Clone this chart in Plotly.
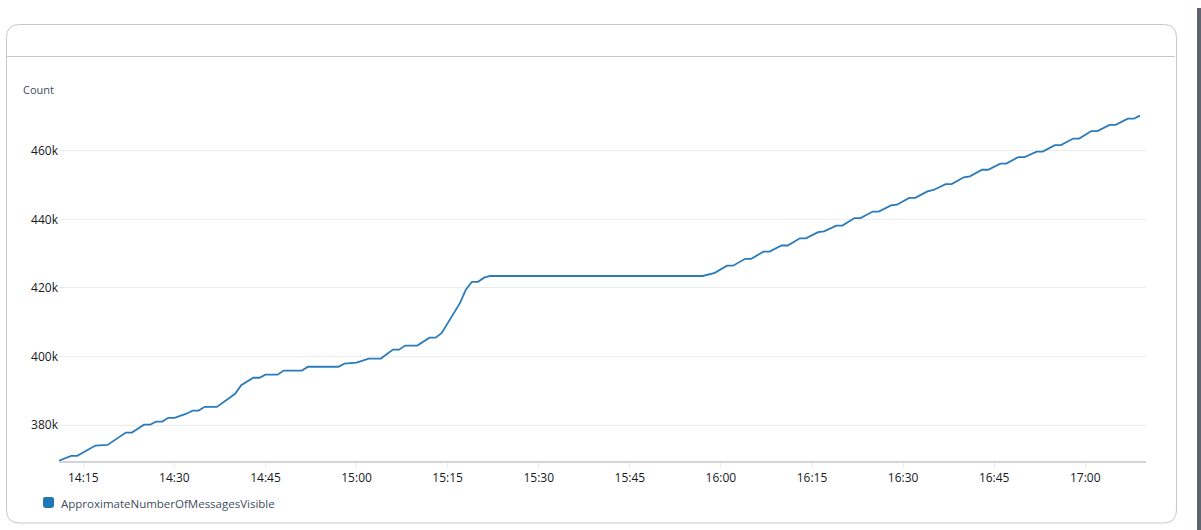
import plotly.graph_objects as go

# ---- data ----
day = "2024-01-01 "
times = ["14:11", "14:13", "14:14", "14:17", "14:19", "14:22", "14:23", "14:25", "14:26", "14:27",
         "14:28", "14:29", "14:30", "14:32", "14:33", "14:34", "14:35", "14:37", "14:40", "14:41",
         "14:43", "14:44", "14:45", "14:47", "14:48", "14:51", "14:52", "14:57", "14:58", "15:00",
         "15:02", "15:04", "15:06", "15:07", "15:08", "15:10", "15:12", "15:13", "15:14", "15:17",
         "15:18", "15:19", "15:20", "15:21", "15:22", "15:57", "15:59", "16:01", "16:02", "16:04",
         "16:05", "16:07", "16:08", "16:10", "16:11", "16:13", "16:14", "16:16", "16:17", "16:19",
         "16:20", "16:22", "16:23", "16:25", "16:26", "16:28", "16:29", "16:31", "16:32", "16:34",
         "16:35", "16:37", "16:38", "16:40", "16:41", "16:43", "16:44", "16:46", "16:47", "16:49",
         "16:50", "16:52", "16:53", "16:55", "16:56", "16:58", "16:59", "17:01", "17:02", "17:04",
         "17:05", "17:07", "17:08", "17:09"]
messages_visible = [369600, 371000, 371000, 374000, 374200, 377800, 377800, 380100, 380100, 381000,
                    381000, 382100, 382100, 383300, 384200, 384200, 385300, 385300, 389100, 391600,
                    393800, 393800, 394700, 394700, 395900, 395900, 397000, 397000, 397900, 398200,
                    399400, 399400, 402000, 402000, 403200, 403200, 405500, 405500, 406800, 415500,
                    419500, 421800, 421800, 423000, 423500, 423500, 424400, 426500, 426500, 428500,
                    428500, 430600, 430600, 432400, 432400, 434500, 434500, 436300, 436500, 438200,
                    438200, 440400, 440400, 442300, 442300, 444100, 444300, 446300, 446300, 448200,
                    448600, 450300, 450300, 452300, 452600, 454500, 454500, 456300, 456300, 458200,
                    458200, 459800, 459800, 461700, 461700, 463600, 463600, 465800, 465800, 467600,
                    467600, 469400, 469400, 470300]
series_name = "ApproximateNumberOfMessagesVisible"
y_axis_label = "Count"
x_tick_labels = ["14:15", "14:30", "14:45", "15:00", "15:15", "15:30", "15:45",
                 "16:00", "16:15", "16:30", "16:45", "17:00"]
y_tick_values = [380000, 400000, 420000, 440000, 460000]
y_tick_labels = ["380k", "400k", "420k", "440k", "460k"]
x_range = ["14:11", "17:10"]
y_range = [369500, 473400]

# ---- layout geometry (pixels) ----
W, H = 1201, 530
PL, PR, PT, PB = 59, 1146, 105, 461  # plot area


def px(x):
    return (x - PL) / (PR - PL)


def py(y):
    return (PB - y) / (PB - PT)


def rounded_rect(l, t, r, b, rad):
    pts = [
        ("M", [(l + rad, t)]), ("L", [(r - rad, t)]), ("Q", [(r, t), (r, t + rad)]),
        ("L", [(r, b - rad)]), ("Q", [(r, b), (r - rad, b)]), ("L", [(l + rad, b)]),
        ("Q", [(l, b), (l, b - rad)]), ("L", [(l, t + rad)]), ("Q", [(l, t), (l + rad, t)]),
    ]
    s = ""
    for cmd, ps in pts:
        s += cmd + " " + " ".join(f"{px(a):.6f},{py(c):.6f}" for a, c in ps) + " "
    return s + "Z"


fig = go.Figure()
fig.add_trace(go.Scatter(
    x=[day + t for t in times], y=messages_visible, mode="lines",
    line=dict(color="#2b7bba", width=1.8), name=series_name, showlegend=False,
))

shapes = [
    dict(type="path", xref="paper", yref="paper", path=rounded_rect(6.5, 24.5, 1176.5, 523, 13),
         line=dict(color="#c6c6cd", width=1), fillcolor="rgba(0,0,0,0)", layer="below"),
    dict(type="line", xref="paper", yref="paper", x0=px(7), x1=px(1175), y0=py(56.5), y1=py(56.5),
         line=dict(color="#c6c6cd", width=1), layer="below"),
    dict(type="rect", xref="paper", yref="paper", x0=px(1197), x1=px(1201), y0=py(8), y1=py(530),
         line=dict(width=0), fillcolor="#5f6370", layer="below"),
    dict(type="path", xref="paper", yref="paper", path=rounded_rect(43, 497, 54, 508, 2.5),
         line=dict(width=0), fillcolor="#1f77b4"),
]

annotations = [
    dict(text=y_axis_label, xref="paper", yref="paper", x=px(21), y=py(90), xanchor="left",
         yanchor="middle", showarrow=False, font=dict(size=11, color="#414d5c")),
    dict(text=series_name, xref="paper", yref="paper", x=px(59), y=py(503), xanchor="left",
         yanchor="middle", showarrow=False, font=dict(size=11.5, color="#414d5c")),
]

fig.update_layout(
    width=W, height=H,
    margin=dict(l=PL, r=W - PR, t=PT, b=H - PB),
    paper_bgcolor="white", plot_bgcolor="white",
    font=dict(family="Open Sans, Noto Sans, sans-serif", size=12, color="#16191f"),
    shapes=shapes, annotations=annotations, showlegend=False,
)
fig.update_xaxes(
    type="date", range=[day + x_range[0], day + x_range[1]],
    tickvals=[day + t for t in x_tick_labels], ticktext=x_tick_labels,
    showgrid=False, showline=True, linecolor="#d1d5db", linewidth=2,
    ticks="outside", ticklen=5, tickcolor="#e9ebed", tickwidth=1,
    tickfont=dict(size=12, color="#16191f"), zeroline=False,
)
fig.update_yaxes(
    range=y_range, tickvals=y_tick_values, ticktext=y_tick_labels,
    showgrid=True, gridcolor="#e9ebed", gridwidth=1, showline=False, zeroline=False,
    ticks="", tickfont=dict(size=12, color="#16191f"),
)

fig.write_html(
    "out.html",
    config={"displayModeBar": False},
    post_script="document.body.style.margin='0';document.body.style.overflow='hidden';",
)
